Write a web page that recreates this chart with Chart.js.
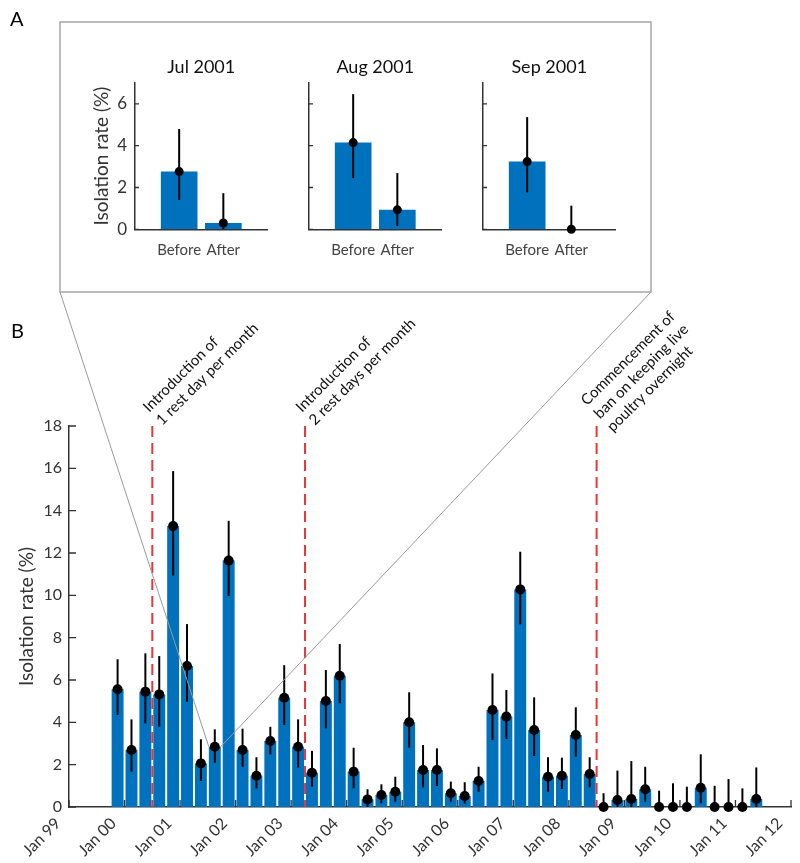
<!DOCTYPE html>
<html>
<head>
<meta charset="utf-8">
<title>Isolation rate</title>
<script src="https://cdn.jsdelivr.net/npm/chart.js@4.4.1/dist/chart.umd.min.js"></script>
<style>
  body { margin: 0; background: #fff; }
  #wrap { position: relative; width: 800px; height: 863px; overflow: hidden; }
  #wrap canvas { position: absolute; }
</style>
</head>
<body>
<div id="wrap">
  <canvas id="main" width="800" height="863" style="left:0;top:0"></canvas>
  <canvas id="inset0" width="210" height="235" style="left:62px;top:40px"></canvas>
  <canvas id="inset1" width="210" height="235" style="left:236px;top:40px"></canvas>
  <canvas id="inset2" width="210" height="235" style="left:410px;top:40px"></canvas>
</div>
<script>
// panel B: quarterly isolation rate with 95% CI
var quarters = [
  'Q4 1999',
  'Q1 2000', 'Q2 2000', 'Q3 2000', 'Q4 2000',
  'Q1 2001', 'Q2 2001', 'Q3 2001', 'Q4 2001',
  'Q1 2002', 'Q2 2002', 'Q3 2002', 'Q4 2002',
  'Q1 2003', 'Q2 2003', 'Q3 2003', 'Q4 2003',
  'Q1 2004', 'Q2 2004', 'Q3 2004', 'Q4 2004',
  'Q1 2005', 'Q2 2005', 'Q3 2005', 'Q4 2005',
  'Q1 2006', 'Q2 2006', 'Q3 2006', 'Q4 2006',
  'Q1 2007', 'Q2 2007', 'Q3 2007', 'Q4 2007',
  'Q1 2008', 'Q2 2008', 'Q3 2008', 'Q4 2008',
  'Q1 2009', 'Q2 2009', 'Q3 2009', 'Q4 2009',
  'Q1 2010', 'Q2 2010', 'Q3 2010', 'Q4 2010',
  'Q1 2011', 'Q2 2011'
];
var rates = [5.56, 2.69, 5.45, 5.32, 13.27, 6.66, 2.06, 2.85, 11.64, 2.69, 1.48, 3.12, 5.16, 2.85, 1.62,
  5.01, 6.2, 1.67, 0.36, 0.57, 0.72, 4.0, 1.75, 1.75, 0.65, 0.52, 1.23, 4.58, 4.27, 10.28, 3.64, 1.43, 1.48, 3.4, 1.56,
  0, 0.33, 0.38, 0.84, 0, 0, 0, 0.91, 0, 0, 0, 0.38];
var rateLow = [4.35, 1.67, 3.95, 3.79, 10.94, 4.97, 1.23, 2.09, 9.97, 1.9, 0.88, 2.49, 3.87, 1.87, 0.96,
  3.72, 4.9, 0.88, 0, 0.17, 0.25, 2.8, 0.93, 0.99, 0.25, 0.17, 0.72, 3.16, 3.21, 8.63, 2.41, 0.72, 0.85, 2.38, 0.93,
  0, 0, 0, 0.25, 0, 0, 0, 0.17, 0, 0, 0, 0];
var rateHigh = [6.98, 4.14, 7.26, 7.13, 15.87, 8.64, 3.2, 3.67, 13.52, 3.7, 2.35, 3.79, 6.7, 4.14, 2.65,
  6.47, 7.7, 2.8, 0.84, 1.07, 1.43, 5.42, 2.93, 2.77, 1.2, 1.17, 1.9, 6.31, 5.53, 12.06, 5.18, 2.35, 2.33, 4.71, 2.35,
  0.65, 1.72, 2.17, 1.9, 0.77, 1.12, 0.96, 2.49, 1.0, 1.32, 0.88, 1.87];
var yearTicks = ['Jan 99', 'Jan 00', 'Jan 01', 'Jan 02', 'Jan 03', 'Jan 04', 'Jan 05',
  'Jan 06', 'Jan 07', 'Jan 08', 'Jan 09', 'Jan 10', 'Jan 11', 'Jan 12'];

var eventDates = ['Jul 2000', 'Apr 2003', 'Jul 2008'];
var eventNotes = [
  ['Introduction of', '1 rest day per month'],
  ['Introduction of', '2 rest days per month'],
  ['Commencement of', 'ban on keeping live', 'poultry overnight']
];

// panel A: months around the first rest day
var zoomQuarter = 'Q3 2001';
var insetMonths = ['Jul 2001', 'Aug 2001', 'Sep 2001'];
var insetGroups = ['Before', 'After'];
var insetRates = [[2.76, 0.3], [4.15, 0.93], [3.24, 0]];
var insetLow = [[1.4, 0], [2.45, 0.16], [1.76, 0]];
var insetHigh = [[4.8, 1.73], [6.47, 2.69], [5.37, 1.13]];

var MONTHS = ['Jan', 'Feb', 'Mar', 'Apr', 'May', 'Jun', 'Jul', 'Aug', 'Sep', 'Oct', 'Nov', 'Dec'];
// months since Jan 1999
var quarterMid = function(q) {
  var p = q.split(' ');
  return (+p[1] - 1999) * 12 + (+p[0].charAt(1) - 1) * 3 + 1.5;
};
var monthPos = function(d) {
  var p = d.split(' ');
  return (+p[1] - 1999) * 12 + MONTHS.indexOf(p[0]);
};

var FONT = 'Lato, "Open Sans", sans-serif';
var BLUE = '#0072bd';
var AXIS = '#333';
Chart.defaults.font.family = FONT;
Chart.defaults.color = '#333';

var errorBars = function(chart, dsIndex, lo, hi, width) {
  var ctx = chart.ctx, ys = chart.scales.y;
  var bars = chart.getDatasetMeta(dsIndex).data;
  ctx.save();
  ctx.strokeStyle = '#000';
  ctx.lineWidth = width;
  for (var i = 0; i < bars.length; i++) {
    ctx.beginPath();
    ctx.moveTo(bars[i].x, ys.getPixelForValue(lo[i]));
    ctx.lineTo(bars[i].x, ys.getPixelForValue(hi[i]));
    ctx.stroke();
  }
  ctx.restore();
};

// matlab style ticks pointing into the plot
var inwardTicks = function(chart, len, withX) {
  var ctx = chart.ctx, a = chart.chartArea, xs = chart.scales.x, ys = chart.scales.y;
  ctx.save();
  ctx.strokeStyle = AXIS;
  ctx.lineWidth = 1.3;
  ctx.beginPath();
  ys.ticks.forEach(function(t) {
    var py = ys.getPixelForValue(t.value);
    ctx.moveTo(a.left, py);
    ctx.lineTo(a.left + len, py);
  });
  if (withX) {
    xs.ticks.forEach(function(t) {
      var px = xs.getPixelForValue(t.value);
      ctx.moveTo(px, a.bottom);
      ctx.lineTo(px, a.bottom - len);
    });
  }
  ctx.stroke();
  ctx.restore();
};

var mainExtras = {
  id: 'mainExtras',
  afterDatasetDraw: function(chart, args) {
    if (args.index === 1) errorBars(chart, 1, rateLow, rateHigh, 2);
  },
  afterDatasetsDraw: function(chart) {
    var ctx = chart.ctx, a = chart.chartArea, xs = chart.scales.x;
    ctx.save();
    ctx.strokeStyle = '#e8353a';
    ctx.lineWidth = 2;
    ctx.setLineDash([11, 6]);
    eventDates.forEach(function(d) {
      var px = xs.getPixelForValue(monthPos(d));
      ctx.beginPath();
      ctx.moveTo(px, a.top);
      ctx.lineTo(px, a.bottom);
      ctx.stroke();
    });
    ctx.restore();

    inwardTicks(chart, 7, true);

    ctx.save();
    ctx.fillStyle = '#111';
    ctx.font = '15px ' + FONT;
    ctx.textAlign = 'left';
    ctx.textBaseline = 'middle';
    eventDates.forEach(function(d, k) {
      var px = xs.getPixelForValue(monthPos(d));
      var lines = eventNotes[k];
      ctx.save();
      ctx.translate(px, a.top - 10);
      ctx.rotate(-Math.PI / 4);
      lines.forEach(function(t, i) {
        ctx.fillText(t, 0, (i - (lines.length - 1) / 2) * 18.5);
      });
      ctx.restore();
    });
    ctx.restore();

    // frame of panel A and the lines to the zoomed quarter
    var bar = chart.getDatasetMeta(1).data[quarters.indexOf(zoomQuarter)];
    ctx.save();
    ctx.strokeStyle = '#a6a6a6';
    ctx.lineWidth = 1.5;
    ctx.strokeRect(60, 22, 591, 270);
    ctx.strokeStyle = '#999';
    ctx.lineWidth = 1;
    ctx.beginPath();
    ctx.moveTo(60, 292);
    ctx.lineTo(bar.x - bar.width / 2, bar.y);
    ctx.moveTo(651, 292);
    ctx.lineTo(bar.x + bar.width / 2, bar.y);
    ctx.stroke();
    ctx.restore();

    ctx.save();
    ctx.fillStyle = '#000';
    ctx.font = '20px ' + FONT;
    ctx.textAlign = 'left';
    ctx.textBaseline = 'alphabetic';
    ctx.fillText('A', 10, 26);
    ctx.fillText('B', 11, 338);
    ctx.restore();
  }
};

var barPts = quarters.map(function(q, i) { return {x: quarterMid(q), y: rates[i]}; });

var mainChart = new Chart(document.getElementById('main'), {
  type: 'bar',
  data: {
    datasets: [
      {type: 'scatter', data: barPts, pointRadius: 5, pointHoverRadius: 5, pointBackgroundColor: '#000',
        pointBorderWidth: 0, clip: false, order: 1},
      {type: 'bar', data: barPts, backgroundColor: BLUE, barPercentage: 0.86, categoryPercentage: 1, order: 2}
    ]
  },
  options: {
    responsive: false,
    animation: false,
    events: [],
    layout: {padding: {top: 426, right: 9, left: 0, bottom: 0}},
    plugins: {legend: {display: false}, tooltip: {enabled: false}},
    scales: {
      x: {
        type: 'linear', min: 0, max: 156, offset: false,
        grid: {display: false, drawTicks: false},
        border: {color: AXIS, width: 1.5},
        ticks: {stepSize: 12, autoSkip: false, minRotation: 45, maxRotation: 45, padding: 7, labelOffset: -11,
          color: '#333', font: {size: 16},
          callback: function(v) { return yearTicks[Math.round(v / 12)]; }},
        afterFit: function(s) { s.height = 56; s.paddingLeft = 0; s.paddingRight = 0; }
      },
      y: {
        min: 0, max: 18,
        grid: {display: false, drawTicks: false},
        border: {color: AXIS, width: 1.5},
        ticks: {stepSize: 2, padding: 7, color: '#333', font: {size: 16}},
        title: {display: true, text: 'Isolation rate (%)', color: '#333', font: {size: 19},
          padding: {top: 15, bottom: 0}},
        afterFit: function(s) { s.width = 69; }
      }
    }
  },
  plugins: [mainExtras]
});

var makeInset = function(k) {
  var showY = k === 0;
  var pts = insetGroups.map(function(g, i) { return {x: g, y: insetRates[k][i]}; });
  return new Chart(document.getElementById('inset' + k), {
    type: 'bar',
    data: {
      labels: [''].concat(insetGroups, [' ']),
      datasets: [
        {type: 'line', data: pts, showLine: false, pointRadius: 4.5, pointHoverRadius: 4.5,
          pointBackgroundColor: '#000', pointBorderWidth: 0, clip: false, order: 1},
        {type: 'bar', data: pts, backgroundColor: BLUE, barPercentage: 0.83, categoryPercentage: 1, order: 2}
      ]
    },
    options: {
      responsive: false,
      animation: false,
      events: [],
      layout: {padding: {left: 0, top: 43, right: 4, bottom: 0}},
      plugins: {legend: {display: false}, tooltip: {enabled: false}},
      scales: {
        x: {
          offset: false,
          grid: {display: false, drawTicks: false},
          border: {color: AXIS, width: 1.5},
          ticks: {padding: 12, color: '#444', font: {size: 15}, maxRotation: 0, autoSkip: false},
          afterFit: function(s) { s.height = 45.7; s.paddingLeft = 0; s.paddingRight = 0; }
        },
        y: {
          min: 0, max: 7,
          grid: {display: false, drawTicks: false},
          border: {color: AXIS, width: 1.5},
          ticks: {display: showY, stepSize: 2, includeBounds: false, padding: 8, color: '#333', font: {size: 17}},
          title: {display: showY, text: 'Isolation rate (%)', color: '#333', font: {size: 19},
            padding: {top: 28, bottom: 0}},
          afterFit: function(s) { s.width = 73; }
        }
      }
    },
    plugins: [{
      id: 'insetExtras',
      afterDatasetDraw: function(chart, args) {
        if (args.index === 1) errorBars(chart, 1, insetLow[k], insetHigh[k], 2);
      },
      afterDatasetsDraw: function(chart) {
        inwardTicks(chart, 4, false);
        // month title centred over the plot area
        var ctx = chart.ctx, a = chart.chartArea;
        ctx.save();
        ctx.fillStyle = '#111';
        ctx.font = '18px ' + FONT;
        ctx.textAlign = 'center';
        ctx.textBaseline = 'middle';
        ctx.fillText(insetMonths[k], (a.left + a.right) / 2, 27);
        ctx.restore();
      }
    }]
  });
};

var insets = [0, 1, 2].map(makeInset);
</script>
</body>
</html>
